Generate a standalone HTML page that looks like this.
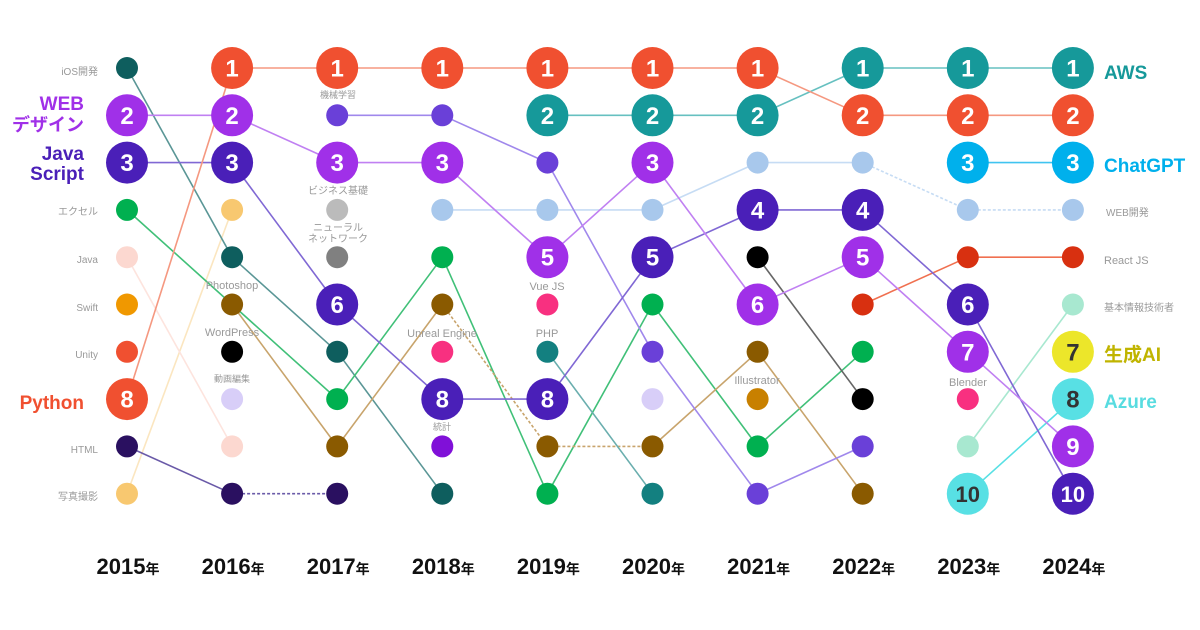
<!DOCTYPE html>
<html><head><meta charset="utf-8"><style>
html,body{margin:0;padding:0;background:#fff;}
svg{display:block;font-family:"Liberation Sans","Noto Sans CJK JP",sans-serif;}
</style></head><body>
<svg id="chart" width="1200" height="630" viewBox="0 0 1200 630"></svg>
<script>
const years = ["2015","2016","2017","2018","2019","2020","2021","2022","2023","2024"];
const rankPython   = [8,1,1,1,1,1,1,2,2,2];
const rankWebDes   = [2,2,3,3,5,3,6,5,7,9];
const rankJS       = [3,3,6,8,8,5,4,4,6,10];
const rankAWS      = [null,null,null,null,2,2,2,1,1,1];
const rankChatGPT  = [null,null,null,null,null,null,null,null,3,3];
const rankGenAI    = [null,null,null,null,null,null,null,null,null,7];
const rankAzure    = [null,null,null,null,null,null,null,null,10,8];
const rankIOS      = [1,5,7,10,null,null,null,null,null,null];
const rankExcel    = [4,null,8,5,10,6,9,7,null,null];
const rankJava     = [5,9,null,null,null,null,null,null,null,null];
const rankSwift    = [6,null,null,null,null,null,null,null,null,null];
const rankUnity    = [7,null,null,null,null,null,null,null,null,null];
const rankHTML     = [9,10,10,null,null,null,null,null,null,null];
const rankPhoto    = [10,4,null,null,null,null,null,null,null,null];
const rankPS       = [null,6,9,6,9,9,7,10,null,null];
const rankWP       = [null,7,null,null,null,null,null,null,null,null];
const rankVideo    = [null,8,null,null,null,null,null,null,null,null];
const rankVideo2   = [null,null,null,null,null,8,null,null,null,null];
const rankML       = [null,null,2,2,3,7,10,9,null,null];
const rankBiz      = [null,null,4,null,null,null,null,null,null,null];
const rankNN       = [null,null,5,null,null,null,null,null,null,null];
const rankWebDev   = [null,null,null,4,4,4,3,3,4,4];
const rankUnreal   = [null,null,null,7,null,null,null,null,null,null];
const rankVue      = [null,null,null,null,6,null,null,null,null,null];
const rankBlender  = [null,null,null,null,null,null,null,null,8,null];
const rankStat     = [null,null,null,9,null,null,null,null,null,null];
const rankPHP      = [null,null,null,null,7,10,null,null,null,null];
const rankBlack21  = [null,null,null,null,null,null,5,8,null,null];
const rankIllust   = [null,null,null,null,null,null,8,null,null,null];
const rankReact    = [null,null,null,null,null,null,null,6,5,5];
const rankKihon    = [null,null,null,null,null,null,null,null,9,6];

const NS="http://www.w3.org/2000/svg";
const svg=document.getElementById('chart');
function xPos(i){return 127+i*105.1;}
function yPos(r){return 68+(r-1)*47.3;}
function mk(tag,attrs,parent){const e=document.createElementNS(NS,tag);for(const k in attrs)e.setAttribute(k,attrs[k]);(parent||svg).appendChild(e);return e;}

const series=[
 {n:'kihon',r:rankKihon,c:'#a8e8d0',lc:'#a8e8d0',big:false,line:true},
 {n:'photo-shoot',r:rankPhoto,c:'#f8c870',lc:'#fbe6c0',big:false,line:true},
 {n:'java',r:rankJava,c:'#fcd8d0',lc:'#fde4de',big:false,line:true},
 {n:'web-dev',r:rankWebDev,c:'#a8c8ec',lc:'#c6dcf4',big:false,line:true,dash:[0,1,2,7,8]},
 {n:'ios',r:rankIOS,c:'#0e5e5e',lc:'#5a9696',big:false,line:true},
 {n:'excel',r:rankExcel,c:'#00b050',lc:'#40c078',big:false,line:true},
 {n:'swift',r:rankSwift,c:'#f09800',big:false},
 {n:'unity',r:rankUnity,c:'#f05030',big:false},
 {n:'html',r:rankHTML,c:'#2a1060',lc:'#6a5aa8',big:false,line:true,dash:[1]},
 {n:'photoshop',r:rankPS,c:'#8a5a00',lc:'#c8a46c',big:false,line:true,dash:[3,4]},
 {n:'wordpress',r:rankWP,c:'#000',big:false},
 {n:'video-edit',r:rankVideo,c:'#d8cef8',big:false},
 {n:'video-edit-2020',r:rankVideo2,c:'#d8cef8',big:false},
 {n:'machine-learning',r:rankML,c:'#6a40d8',lc:'#a088ec',big:false,line:true,dash:[0]},
 {n:'biz-basics',r:rankBiz,c:'#bbbbbb',big:false},
 {n:'neural-net',r:rankNN,c:'#808080',big:false},
 {n:'unreal',r:rankUnreal,c:'#f83080',big:false},
 {n:'vue',r:rankVue,c:'#f83080',big:false},
 {n:'blender',r:rankBlender,c:'#f83080',big:false},
 {n:'stats',r:rankStat,c:'#8010d8',big:false},
 {n:'php',r:rankPHP,c:'#138080',lc:'#6aaeae',big:false,line:true},
 {n:'black-2021',r:rankBlack21,c:'#000',lc:'#666',big:false,line:true},
 {n:'illustrator',r:rankIllust,c:'#c88000',big:false},
 {n:'react',r:rankReact,c:'#d83010',lc:'#f07050',big:false,line:true,dash:[0,1,2]},
 {n:'azure',r:rankAzure,c:'#58e0e4',lc:'#58e0e4',big:true,line:true,dash:[0],tc:'#333'},
 {n:'genai',r:rankGenAI,c:'#ece62a',big:true,tc:'#333'},
 {n:'chatgpt',r:rankChatGPT,c:'#00b0ec',lc:'#40c4f0',big:true,line:true},
 {n:'aws',r:rankAWS,c:'#16999a',lc:'#66c0c0',big:true,line:true},
 {n:'javascript',r:rankJS,c:'#4a1fb8',lc:'#8068d4',big:true,line:true},
 {n:'web-design',r:rankWebDes,c:'#a030e8',lc:'#c080f2',big:true,line:true},
 {n:'python',r:rankPython,c:'#f05030',lc:'#f59880',big:true,line:true}
];
const gl=mk('g',{});


series.forEach(s=>{
 if(!s.line)return;
 let prev=null;
 s.r.forEach((v,i)=>{
  if(v==null)return;
  if(prev!=null){
   const seg=mk('line',{x1:xPos(prev),y1:yPos(s.r[prev]),x2:xPos(i),y2:yPos(v),stroke:s.lc,'stroke-width':1.6},gl);
   if(s.dash&&s.dash.indexOf(prev)>=0)seg.setAttribute('stroke-dasharray','3 2');
   
   
  }
  prev=i;
 });
});
series.forEach(s=>{
 s.r.forEach((v,i)=>{
  if(v==null)return;
  const c=mk('circle',{cx:xPos(i),cy:yPos(v),r:s.big?21:11,fill:s.c});
  
  
  if(s.big){
   const t=mk('text',{x:xPos(i),y:yPos(v)+8.5,'text-anchor':'middle','font-size':v>=10?22:24,'font-weight':'bold',fill:s.tc||'#fff'});
   t.textContent=v;
   
   
  }
 });
});
function label(txt,x,y,size,color,anchor,bold,name){
 const t=mk('text',{x:x,y:y,'font-size':size,fill:color,'text-anchor':anchor||'middle','font-weight':bold?'bold':'normal'});
 t.textContent=txt;
 
 
}
const gray='#999';
label('iOS開発',98,75,10,gray,'end',false,'ios-label');
label('エクセル',98,215,10,gray,'end',false,'excel-label');
label('Java',98,263,10,gray,'end',false,'java-label');
label('Swift',98,311,10,gray,'end',false,'swift-label');
label('Unity',98,358,10,gray,'end',false,'unity-label');
label('HTML',98,453,10,gray,'end',false,'html-label');
label('写真撮影',98,500,10,gray,'end',false,'photo-label');
label('機械学習',338,98,9,gray,'middle',false,'ml-label');
label('ビジネス基礎',338,194,10,gray,'middle',false,'biz-label');
label('ニューラル',338,231,10,gray,'middle',false,'nn-label1');
label('ネットワーク',338,242,10,gray,'middle',false,'nn-label2');
label('Photoshop',232,289,11,gray,'middle',false,'photoshop-label');
label('WordPress',232,336,11,gray,'middle',false,'wordpress-label');
label('動画編集',232,382,9,gray,'middle',false,'video-label');
label('Unreal Engine',442,337,11,gray,'middle',false,'unreal-label');
label('統計',442,430,9,gray,'middle',false,'stats-label');
label('Vue JS',547,290,11,gray,'middle',false,'vue-label');
label('PHP',547,337,11,gray,'middle',false,'php-label');
label('Illustrator',757,384,11,gray,'middle',false,'illustrator-label');
label('Blender',968,386,11,gray,'middle',false,'blender-label');
label('WEB開発',1106,216,10,gray,'start',false,'webdev-label');
label('React JS',1104,264,11,gray,'start',false,'react-label');
label('基本情報技術者',1104,311,10,gray,'start',false,'kihon-label');
label('WEB',84,110,19,'#a030e8','end',true,'webdesign-label1');
label('デザイン',84,131,18,'#a030e8','end',true,'webdesign-label2');
label('Java',84,160,19,'#4a1fb8','end',true,'js-label1');
label('Script',84,180,19,'#4a1fb8','end',true,'js-label2');
label('Python',84,409,19,'#f05030','end',true,'python-label');
label('AWS',1104,79,19,'#16999a','start',true,'aws-label');
label('ChatGPT',1104,172,19,'#00b0ec','start',true,'chatgpt-label');
label('生成AI',1104,361,19,'#c0b400','start',true,'genai-label');
label('Azure',1104,408,19,'#58dce0','start',true,'azure-label');
years.forEach((y,i)=>{
 const t=mk('text',{x:xPos(i)+1,y:574,'text-anchor':'middle','font-size':22,'font-weight':'bold',fill:'#111'});
 t.innerHTML=y+'<tspan font-size="14">年</tspan>';
 
 
});
</script>
</body></html>
